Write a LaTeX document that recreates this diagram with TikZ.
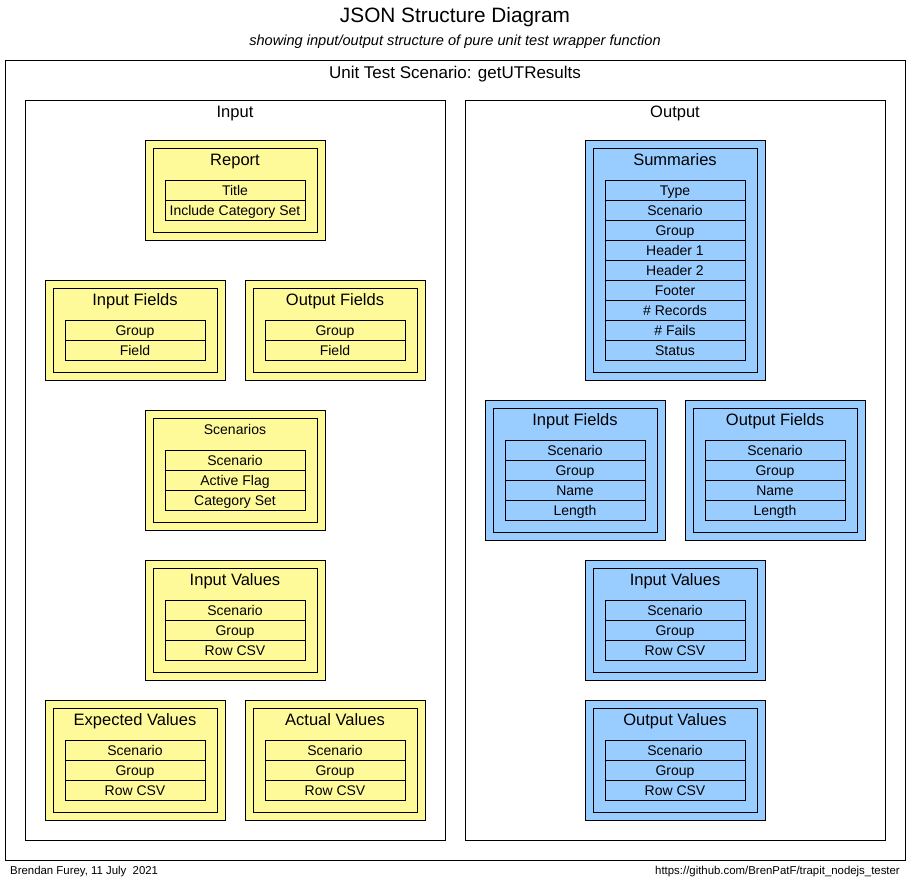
\documentclass[tikz,border=0pt]{standalone}
\usepackage{fontspec}
\setmainfont{Liberation Sans}
\usepackage{tikz}
\usetikzlibrary{positioning}
\definecolor{inyellow}{HTML}{FFFA99}
\definecolor{outblue}{HTML}{99CCFF}

\tikzset{
  frame/.style={draw, line width=1pt, fill=white, inner sep=0pt, outer sep=0pt},
  inrim/.style={draw, line width=1pt, fill=inyellow, inner sep=0pt, outer sep=0pt},
  outrim/.style={draw, line width=1pt, fill=outblue, inner sep=0pt, outer sep=0pt},
  infield/.style={inrim, minimum width=140, minimum height=20, text height=10pt, text depth=0pt,
    font=\fontsize{14}{16}\selectfont},
  outfield/.style={outrim, minimum width=140, minimum height=20, text height=10pt, text depth=0pt,
    font=\fontsize{14}{16}\selectfont},
  head/.style={font=\fontsize{16.5}{19}\selectfont, inner sep=0pt, text height=11.8pt, text depth=0pt},
  framelabel/.style={font=\fontsize{16.5}{19}\selectfont, inner sep=0pt, text height=11.8pt, text depth=0pt},
  footnote/.style={font=\fontsize{11.4}{13}\selectfont, inner sep=0pt, text height=8.2pt, text depth=0pt},
}

\begin{document}
\begin{tikzpicture}[x=1pt, y=-1pt]
\useasboundingbox (0,0) rectangle (911,879);

% Titles
\node[font=\fontsize{20.8}{24}\selectfont, inner sep=0pt, text height=14.9pt, text depth=0pt] (title) at (455,15) {JSON Structure Diagram};
\node[font=\fontsize{14.6}{17}\selectfont\itshape, inner sep=0pt, text height=10.5pt, text depth=0pt] (subtitle) at (455,40)
  {showing input/output structure of pure unit test wrapper function};

% Frames
\node[frame, minimum width=900, minimum height=800] (scenario) at (455,460) {};
\node[framelabel, font=\fontsize{17}{19}\selectfont] (scenario-h) at (455,73) {Unit Test Scenario: getUTResults};
\node[frame, minimum width=420, minimum height=740] (input) at (235,470) {};
\node[framelabel] (input-h) at (235,112) {Input};
\node[frame, minimum width=420, minimum height=740] (output) at (675,470) {};
\node[framelabel] (output-h) at (675,112) {Output};

% Input side (yellow)
\node[inrim, minimum width=180, minimum height=100] (report) at (235,190) {};
\node[inrim, minimum width=164, minimum height=84] (report-in) at (report) {};
\node[head] (report-h) at (235,160) {Report};
\foreach \f [count=\i] in {Title, Include Category Set}
  \node[infield] (report-\i) at (235,170+20*\i) {\f};

\node[inrim, minimum width=180, minimum height=100] (infld) at (135,330) {};
\node[inrim, minimum width=164, minimum height=84] (infld-in) at (infld) {};
\node[head] (infld-h) at (135,300) {Input Fields};
\foreach \f [count=\i] in {Group, Field}
  \node[infield] (infld-\i) at (135,310+20*\i) {\f};

\node[inrim, minimum width=180, minimum height=100] (outfld) at (335,330) {};
\node[inrim, minimum width=164, minimum height=84] (outfld-in) at (outfld) {};
\node[head] (outfld-h) at (335,300) {Output Fields};
\foreach \f [count=\i] in {Group, Field}
  \node[infield] (outfld-\i) at (335,310+20*\i) {\f};

\node[inrim, minimum width=180, minimum height=120] (scen) at (235,470) {};
\node[inrim, minimum width=164, minimum height=104] (scen-in) at (scen) {};
\node[head, font=\fontsize{14}{16}\selectfont, text height=10pt] (scen-h) at (235,429) {Scenarios};
\foreach \f [count=\i] in {Scenario, Active Flag, Category Set}
  \node[infield] (scen-\i) at (235,440+20*\i) {\f};

\node[inrim, minimum width=180, minimum height=120] (inval) at (235,620) {};
\node[inrim, minimum width=164, minimum height=104] (inval-in) at (inval) {};
\node[head] (inval-h) at (235,580) {Input Values};
\foreach \f [count=\i] in {Scenario, Group, Row CSV}
  \node[infield] (inval-\i) at (235,590+20*\i) {\f};

\node[inrim, minimum width=180, minimum height=120] (expval) at (135,760) {};
\node[inrim, minimum width=164, minimum height=104] (expval-in) at (expval) {};
\node[head] (expval-h) at (135,720) {Expected Values};
\foreach \f [count=\i] in {Scenario, Group, Row CSV}
  \node[infield] (expval-\i) at (135,730+20*\i) {\f};

\node[inrim, minimum width=180, minimum height=120] (actval) at (335,760) {};
\node[inrim, minimum width=164, minimum height=104] (actval-in) at (actval) {};
\node[head] (actval-h) at (335,720) {Actual Values};
\foreach \f [count=\i] in {Scenario, Group, Row CSV}
  \node[infield] (actval-\i) at (335,730+20*\i) {\f};

% Output side (blue)
\node[outrim, minimum width=180, minimum height=240] (summ) at (675,260) {};
\node[outrim, minimum width=164, minimum height=224] (summ-in) at (summ) {};
\node[head] (summ-h) at (675,160) {Summaries};
\foreach \f [count=\i] in {Type, Scenario, Group, Header 1, Header 2, Footer, \# Records, \# Fails, Status}
  \node[outfield] (summ-\i) at (675,170+20*\i) {\f};

\node[outrim, minimum width=180, minimum height=140] (oinfld) at (575,470) {};
\node[outrim, minimum width=164, minimum height=124] (oinfld-in) at (oinfld) {};
\node[head] (oinfld-h) at (575,420) {Input Fields};
\foreach \f [count=\i] in {Scenario, Group, Name, Length}
  \node[outfield] (oinfld-\i) at (575,430+20*\i) {\f};

\node[outrim, minimum width=180, minimum height=140] (ooutfld) at (775,470) {};
\node[outrim, minimum width=164, minimum height=124] (ooutfld-in) at (ooutfld) {};
\node[head] (ooutfld-h) at (775,420) {Output Fields};
\foreach \f [count=\i] in {Scenario, Group, Name, Length}
  \node[outfield] (ooutfld-\i) at (775,430+20*\i) {\f};

\node[outrim, minimum width=180, minimum height=120] (oinval) at (675,620) {};
\node[outrim, minimum width=164, minimum height=104] (oinval-in) at (oinval) {};
\node[head] (oinval-h) at (675,580) {Input Values};
\foreach \f [count=\i] in {Scenario, Group, Row CSV}
  \node[outfield] (oinval-\i) at (675,590+20*\i) {\f};

\node[outrim, minimum width=180, minimum height=120] (ooutval) at (675,760) {};
\node[outrim, minimum width=164, minimum height=104] (ooutval-in) at (ooutval) {};
\node[head] (ooutval-h) at (675,720) {Output Values};
\foreach \f [count=\i] in {Scenario, Group, Row CSV}
  \node[outfield] (ooutval-\i) at (675,730+20*\i) {\f};

% Footer
\node[footnote, anchor=west] (author) at (10,870) {Brendan Furey, 11 July\ \ 2021};
\node[footnote, anchor=east] (link) at (900,870) {https://github.com/BrenPatF/trapit\_nodejs\_tester};
\end{tikzpicture}
\end{document}
